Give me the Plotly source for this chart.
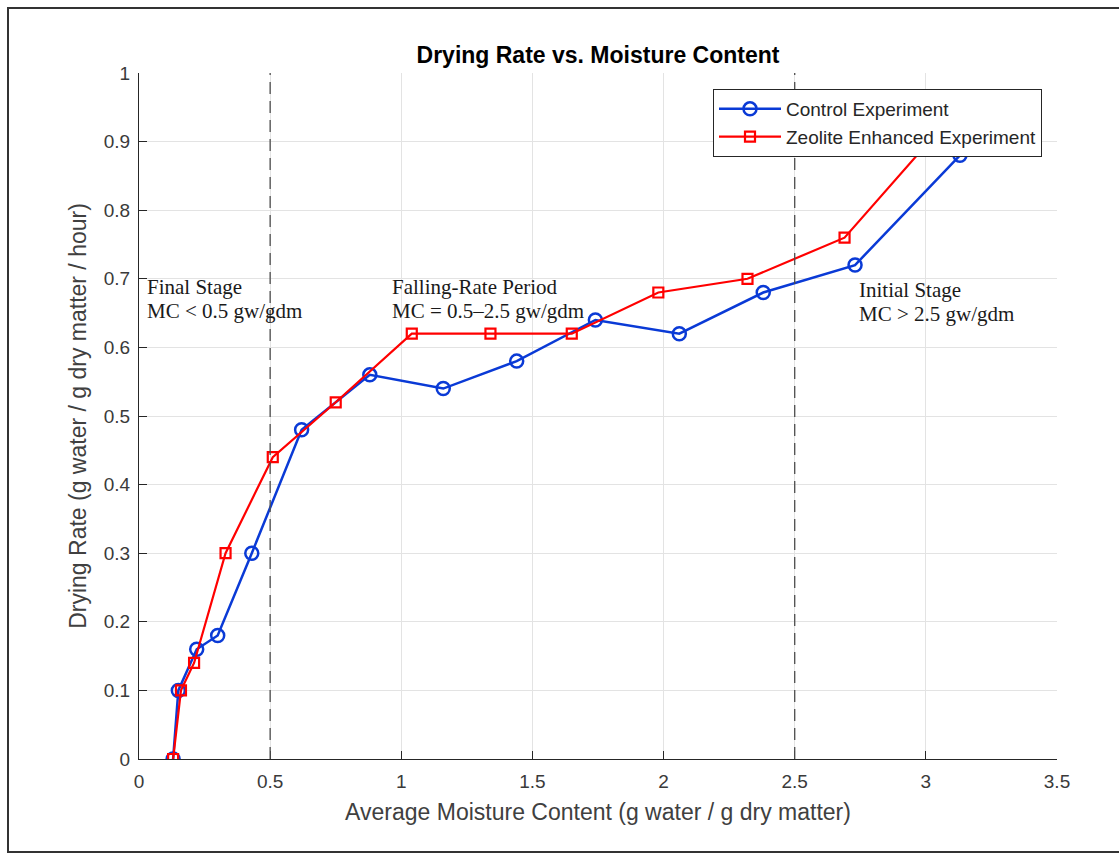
import plotly.graph_objects as go

# Average moisture content (g water / g dry matter) and drying rate (g water / g dry matter / hour)
control_mc = [0.13, 0.15, 0.22, 0.30, 0.43, 0.62, 0.88, 1.16, 1.44, 1.74, 2.06, 2.38, 2.73, 3.13]
control_rate = [0.00, 0.10, 0.16, 0.18, 0.30, 0.48, 0.56, 0.54, 0.58, 0.64, 0.62, 0.68, 0.72, 0.88]

zeolite_mc = [0.13, 0.16, 0.21, 0.33, 0.51, 0.75, 1.04, 1.34, 1.65, 1.98, 2.32, 2.69, 3.15]
zeolite_rate = [0.00, 0.10, 0.14, 0.30, 0.44, 0.52, 0.62, 0.62, 0.62, 0.68, 0.70, 0.76, 0.96]

stage_bounds = [0.5, 2.5]
# (x, y of first line, y of second line, line 1, line 2)
stage_labels = [
    (0.022, 0.688, 0.653, "Final Stage", "MC < 0.5 gw/gdm"),
    (0.958, 0.688, 0.653, "Falling-Rate Period", "MC = 0.5–2.5 gw/gdm"),
    (2.736, 0.684, 0.649, "Initial Stage", "MC > 2.5 gw/gdm"),
]

x_ticks = [0, 0.5, 1, 1.5, 2, 2.5, 3, 3.5]
y_ticks = [0, 0.1, 0.2, 0.3, 0.4, 0.5, 0.6, 0.7, 0.8, 0.9, 1]

SANS = "Arial, Liberation Sans, Helvetica, sans-serif"
SERIF = "Times New Roman, Liberation Serif, serif"
AX = "#262626"

fig = go.Figure()
fig.add_trace(go.Scatter(
    x=control_mc, y=control_rate, mode="lines+markers", name="Control Experiment",
    line=dict(color="#0a3ad6", width=2.5),
    marker=dict(symbol="circle-open", size=13, color="#0a3ad6", line=dict(width=2.5)),
))
fig.add_trace(go.Scatter(
    x=zeolite_mc, y=zeolite_rate, mode="lines+markers", name="Zeolite Enhanced Experiment",
    line=dict(color="#ff0000", width=2.2),
    marker=dict(symbol="square-open", size=10, color="#ff0000", line=dict(width=2.2)),
))

for xb in stage_bounds:
    fig.add_shape(type="line", xref="x", yref="y", x0=xb, x1=xb, y0=0, y1=1,
                  line=dict(color="#4d4d4d", width=1.3, dash="12px,7px"), layer="above")

for x, y1, y2, t1, t2 in stage_labels:
    for y, txt in ((y1, t1), (y2, t2)):
        fig.add_annotation(x=x, y=y, xref="x", yref="y", text=txt, showarrow=False,
                           xanchor="left", yanchor="middle", align="left",
                           font=dict(family=SERIF, size=21, color="#1a1a1a"))

# Outer figure frame
fig.add_shape(type="rect", xref="paper", yref="paper",
              x0=(8 - 139) / 918, x1=(1125 - 139) / 918,
              y0=(759 - 852) / 686, y1=(759 - 8) / 686,
              line=dict(color="#333333", width=2), fillcolor="rgba(0,0,0,0)")

axis_common = dict(
    showgrid=True, gridcolor="#e3e3e3", gridwidth=1, zeroline=False,
    showline=True, linecolor=AX, linewidth=1.2, mirror=False,
    ticks="inside", ticklen=8, tickcolor=AX, tickwidth=1.2,
    tickfont=dict(family=SANS, size=19, color="#3a3a3a"),
)

fig.update_layout(
    width=1119, height=855, autosize=False,
    margin=dict(l=139, r=62, t=73, b=96),
    plot_bgcolor="white", paper_bgcolor="white",
    title=dict(text="<b>Drying Rate vs. Moisture Content</b>", x=598 / 1119, xanchor="center",
               y=1 - 55 / 855, yanchor="middle",
               font=dict(family=SANS, size=23, color="#000000")),
    xaxis=dict(range=[0, 3.5], tickvals=x_ticks, ticktext=[f"{v:g}" for v in x_ticks],
               ticklabelstandoff=5,
               title=dict(text="Average Moisture Content (g water / g dry matter)", standoff=12,
                          font=dict(family=SANS, size=23, color="#404040")),
               **axis_common),
    yaxis=dict(range=[0, 1], tickvals=y_ticks, ticktext=[f"{v:g}" for v in y_ticks],
               ticklabelstandoff=4,
               title=dict(text="Drying Rate (g water / g dry matter / hour)", standoff=10,
                          font=dict(family=SANS, size=23, color="#404040")),
               **axis_common),
    legend=dict(x=(713 - 139) / 918, y=(759 - 89) / 686, xanchor="left", yanchor="top",
                bgcolor="white", bordercolor=AX, borderwidth=1,
                font=dict(family=SANS, size=19, color="#262626"),
                tracegroupgap=0, itemwidth=62),
    showlegend=True,
)

fig.write_html("out.html")
